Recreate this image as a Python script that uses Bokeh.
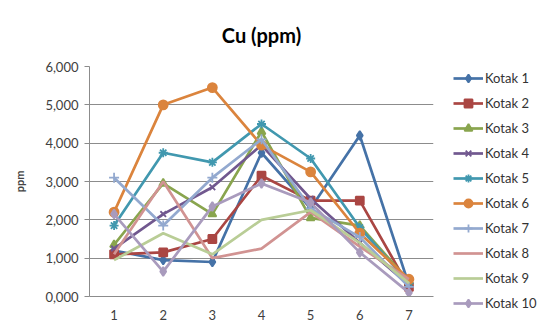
from bokeh.plotting import figure
from bokeh.models import Legend, LegendItem, FixedTicker, Range1d, ColumnDataSource
from bokeh.embed import file_html
from bokeh.resources import INLINE

x = [1, 2, 3, 4, 5, 6, 7]
series_names = ["Kotak 1", "Kotak 2", "Kotak 3", "Kotak 4", "Kotak 5",
                "Kotak 6", "Kotak 7", "Kotak 8", "Kotak 9", "Kotak 10"]
kotak1 = [1200, 950, 900, 3750, 2300, 4200, 300]
kotak2 = [1100, 1150, 1500, 3150, 2500, 2500, 250]
kotak3 = [1350, 2950, 2150, 4300, 2050, 1850, 400]
kotak4 = [1250, 2150, 2850, 3950, 2550, 1400, 300]
kotak5 = [1850, 3750, 3500, 4500, 3600, 1800, 350]
kotak6 = [2200, 5000, 5450, 3950, 3250, 1650, 450]
kotak7 = [3100, 1850, 3100, 4100, 2300, 1550, 250]
kotak8 = [1100, 3000, 1000, 1250, 2200, 1300, 450]
kotak9 = [950, 1650, 1100, 2000, 2250, 1400, 350]
kotak10 = [2150, 650, 2350, 2950, 2450, 1150, 100]
series_values = [kotak1, kotak2, kotak3, kotak4, kotak5,
                 kotak6, kotak7, kotak8, kotak9, kotak10]
y_ticks = [0, 1000, 2000, 3000, 4000, 5000, 6000]
y_tick_labels = ["0,000", "1,000", "2,000", "3,000", "4,000", "5,000", "6,000"]

colors = ["#4572A7", "#AA4643", "#89A54E", "#71588F", "#4198AF",
          "#DB843D", "#93A9CF", "#D19392", "#B9CD96", "#A99BBD"]
markers = ["diamond", "square", "triangle", "x", "asterisk",
           "circle", "cross", None, None, "diamond"]
sizes = [9, 8, 8, 8, 9, 9, 10, 0, 0, 9]

FONT = "Lato"

p = figure(frame_width=344, frame_height=230, output_backend="svg",
           toolbar_location=None,
           x_range=Range1d(0.5, 7.5), y_range=Range1d(0, 6000),
           min_border_left=89, min_border_right=108, min_border_top=66,
           min_border_bottom=33, title="Cu (ppm)")
p.title.align = "center"
p.title.text_font = FONT
p.title.text_font_size = "20px"
p.title.text_font_style = "bold"
p.title.text_color = "#000000"
p.title.offset = 0
p.title.standoff = 40

p.outline_line_color = None
p.background_fill_color = "white"
p.border_fill_color = "white"

p.xgrid.grid_line_color = None
p.ygrid.grid_line_color = "#8c8c8c"
p.ygrid.grid_line_width = 1

p.xaxis.ticker = FixedTicker(ticks=x)
p.yaxis.ticker = FixedTicker(ticks=y_ticks)
p.yaxis.major_label_overrides = {t: l for t, l in zip(y_ticks, y_tick_labels)}
for ax in (p.xaxis[0], p.yaxis[0]):
    ax.axis_line_color = "#8c8c8c"
    ax.major_tick_line_color = "#8c8c8c"
    ax.minor_tick_line_color = None
    ax.major_tick_in = 0
    ax.major_tick_out = 5
    ax.major_label_text_font = FONT
    ax.major_label_text_font_size = "13px"
    ax.major_label_text_color = "#404040"
p.xaxis.major_tick_line_color = None
p.xaxis.major_label_standoff = 8
p.yaxis.major_label_standoff = 6
p.yaxis.axis_label = "ppm"
p.yaxis.axis_label_text_font = FONT
p.yaxis.axis_label_text_font_size = "11px"
p.yaxis.axis_label_text_font_style = "bold"
p.yaxis.axis_label_standoff = 16

items = []
for name, vals, c, m, s in zip(series_names, series_values, colors, markers, sizes):
    src = ColumnDataSource(dict(x=x, y=vals))
    rs = [p.line("x", "y", source=src, line_color=c, line_width=2.7)]
    if m is not None:
        rs.append(p.scatter("x", "y", source=src, marker=m, size=s,
                            fill_color=c, line_color=c, line_width=1.8))
    items.append(LegendItem(label=name, renderers=rs))

legend = Legend(items=items, location=(20, -17), orientation="vertical")
legend.border_line_color = None
legend.background_fill_alpha = 0
legend.label_text_font = FONT
legend.label_text_font_size = "13px"
legend.label_text_color = "#333333"
legend.glyph_width = 30
legend.glyph_height = 20
legend.label_height = 20
legend.spacing = 5
legend.label_standoff = 2
legend.padding = 0
legend.margin = 0
p.add_layout(legend, "right")

open("out.html", "w").write(file_html(p, INLINE))
